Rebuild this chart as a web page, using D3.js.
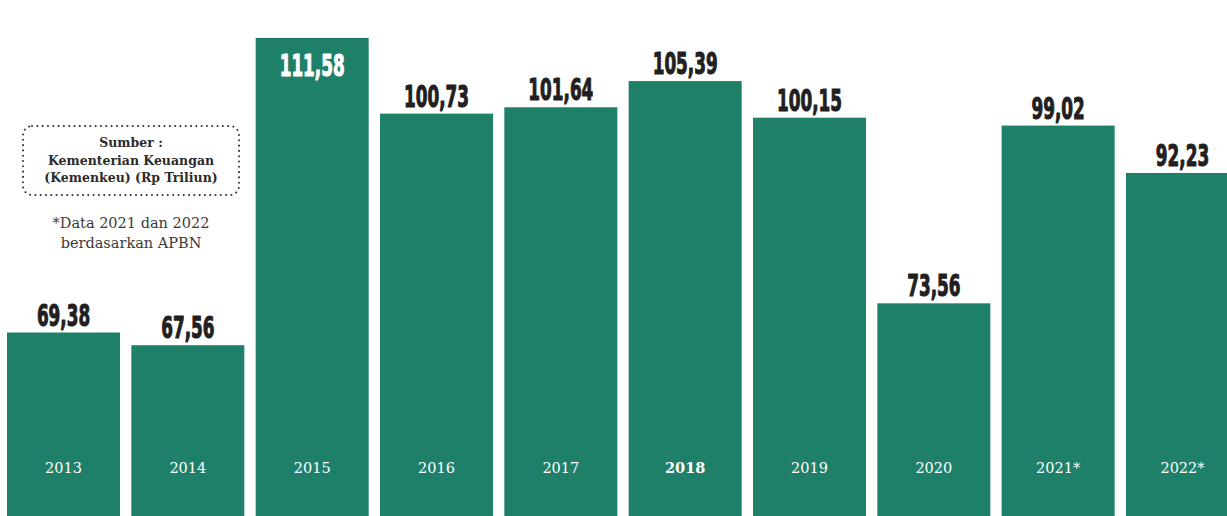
<!DOCTYPE html>
<html>
<head>
<meta charset="utf-8">
<script src="https://cdn.jsdelivr.net/npm/d3@7"></script>
<style>
  body { margin: 0; background: #fff; }
  svg { display: block; }
</style>
</head>
<body>
<svg id="drawing_region"></svg>
<script>
// data (Rp Triliun)
const years = ["2013", "2014", "2015", "2016", "2017", "2018", "2019", "2020", "2021*", "2022*"];
const values = [69.38, 67.56, 111.58, 100.73, 101.64, 105.39, 100.15, 73.56, 99.02, 92.23];
const boldYear = "2018";
const sourceLines = ["Sumber :", "Kementerian Keuangan", "(Kemenkeu) (Rp Triliun)"];
const noteLines = ["*Data 2021 dan 2022", "berdasarkan APBN"];

const data = years.map((y, i) => ({ year: y, value: values[i] }));

const width = 1227;
const height = 516;
const green = "#1f806a";

const svg = d3.select("#drawing_region")
  .attr("width", width)
  .attr("height", height);

// bars run off the bottom; the axis is cut, so the scale does not start at 0
const xscale = d3.scaleBand()
  .domain(years)
  .range([7, 1239])
  .paddingInner(0.091)
  .paddingOuter(0);

const yscale = d3.scaleLinear()
  .domain([60, 115])
  .range([398, 14]);

const fmt = (v) => d3.format(".2f")(v).replace(".", ",");

svg.append("g")
  .selectAll("rect")
  .data(data)
  .join("rect")
  .attr("x", (d) => xscale(d.year))
  .attr("y", (d) => yscale(d.value))
  .attr("width", xscale.bandwidth())
  .attr("height", (d) => height - yscale(d.value))
  .attr("fill", green);

// year labels inside the bars
svg.append("g")
  .selectAll("text")
  .data(data)
  .join("text")
  .attr("x", (d) => xscale(d.year) + xscale.bandwidth() / 2)
  .attr("y", 473)
  .attr("text-anchor", "middle")
  .attr("font-family", "'DejaVu Serif', serif")
  .attr("font-size", "14.5px")
  .attr("font-weight", (d) => (d.year === boldYear ? "bold" : "normal"))
  .attr("fill", "#fff")
  .text((d) => d.year);

// value labels, condensed heavy type
const inside = (d) => yscale(d.value) < 45;
const labels = svg.append("g")
  .selectAll("text")
  .data(data)
  .join("text")
  .attr("text-anchor", "middle")
  .attr("font-family", "'Liberation Sans Narrow', 'DejaVu Sans Condensed', sans-serif")
  .attr("font-weight", "bold")
  .attr("font-size", "31px")
  .attr("fill", (d) => (inside(d) ? "#fff" : "#231f20"))
  .attr("stroke", (d) => (inside(d) ? "#fff" : "#231f20"))
  .attr("stroke-width", 1.1)
  .attr("stroke-linejoin", "round")
  .text((d) => fmt(d.value));

const probe = labels.filter((d) => d.value === 100.73).node();
const k = probe ? 65 / probe.getComputedTextLength() : 1;

labels.attr("transform", (d) => {
  const cx = xscale(d.year) + xscale.bandwidth() / 2;
  const top = yscale(d.value);
  const by = inside(d) ? top + 38 : top - 7;
  return `translate(${cx}, ${by}) scale(${k}, 1)`;
});

// source box
svg.append("rect")
  .attr("x", 23)
  .attr("y", 126)
  .attr("width", 216)
  .attr("height", 69)
  .attr("rx", 9)
  .attr("fill", "none")
  .attr("stroke", "#333")
  .attr("stroke-width", 2)
  .attr("stroke-linecap", "round")
  .attr("stroke-dasharray", "0.1,5.2");

svg.append("g")
  .selectAll("text")
  .data(sourceLines)
  .join("text")
  .attr("x", 131)
  .attr("y", (d, i) => 147 + i * 17.5)
  .attr("text-anchor", "middle")
  .attr("font-family", "'DejaVu Serif', serif")
  .attr("font-weight", "bold")
  .attr("font-size", "12.5px")
  .attr("fill", "#2b2b2b")
  .text((d) => d);

svg.append("g")
  .selectAll("text")
  .data(noteLines)
  .join("text")
  .attr("x", 131)
  .attr("y", (d, i) => 228 + i * 20)
  .attr("text-anchor", "middle")
  .attr("font-family", "'DejaVu Serif', serif")
  .attr("font-size", "14.5px")
  .attr("fill", "#3a3a3a")
  .text((d) => d);
</script>
</body>
</html>
